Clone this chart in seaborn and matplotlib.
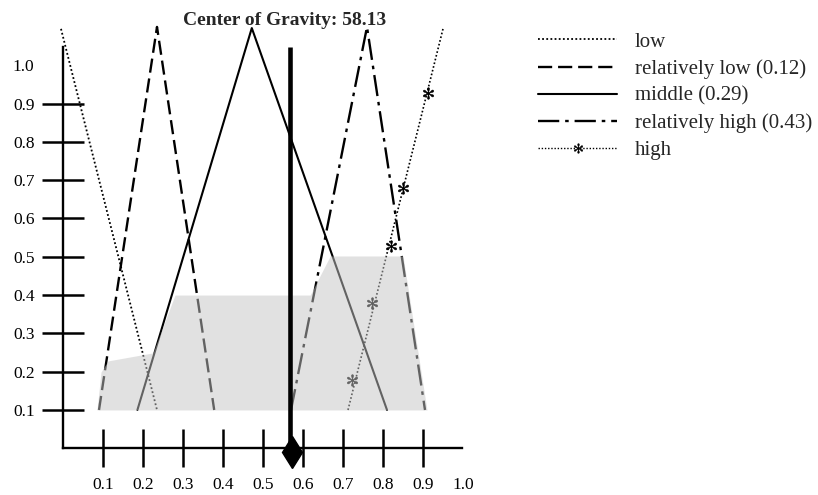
import matplotlib
matplotlib.use("Agg")
import matplotlib.pyplot as plt
from matplotlib.lines import Line2D
import seaborn as sns

# ---------------- data ----------------
low_x = [-0.005, 0.235]
low_y = [1.095, 0.10]
rel_low_x = [0.090, 0.235, 0.378]
rel_low_y = [0.10, 1.10, 0.10]
middle_x = [0.186, 0.472, 0.810]
middle_y = [0.10, 1.097, 0.10]
rel_high_x = [0.570, 0.760, 0.905]
rel_high_y = [0.10, 1.10, 0.10]
high_x = [0.7125, 0.950]
high_y = [0.10, 1.095]
star_x = [0.7225, 0.7725, 0.820, 0.850, 0.9125]
star_y = [0.178, 0.379, 0.528, 0.680, 0.927]
area_x = [0.085, 0.095, 0.1125, 0.225, 0.280, 0.618, 0.668, 0.850, 0.910]
area_y = [0.10, 0.199, 0.228, 0.249, 0.400, 0.400, 0.502, 0.502, 0.10]
area_base = 0.10
cog_x = 0.568
cog_top = 1.047
cog_title = "Center of Gravity: 58.13"
series_labels = ["low", "relatively low (0.12)", "middle (0.29)",
                 "relatively high (0.43)", "high"]
x_ticks = [0.1, 0.2, 0.3, 0.4, 0.5, 0.6, 0.7, 0.8, 0.9, 1.0]
y_ticks = [0.1, 0.2, 0.3, 0.4, 0.5, 0.6, 0.7, 0.8, 0.9, 1.0]
x_tick_labels = ["0.1", "0.2", "0.3", "0.4", "0.5", "0.6", "0.7", "0.8", "0.9", "1.0"]
y_tick_labels = ["0.1", "0.2", "0.3", "0.4", "0.5", "0.6", "0.7", "0.8", "0.9", "1.0"]

# ---------------- style ----------------
sns.set_style("white")
plt.rcParams["font.family"] = ["Liberation Serif", "DejaVu Serif"]
plt.rcParams["mathtext.fontset"] = "stix"

fig = plt.figure(figsize=(8.18, 4.95), dpi=100)
ax = fig.add_axes([0, 0, 1, 1])
ax.set_xlim(-0.1575, 1.8875)
ax.set_ylim(-0.122, 1.1703)

dotted = (0, (1.0, 1.3))
dashed = (0, (6.0, 2.5))
dashdot = (0, (9.0, 2.5, 1.5, 2.5))

sns.lineplot(x=low_x, y=low_y, ax=ax, color="black", lw=1.3, linestyle=dotted,
             sort=False, estimator=None, zorder=2)
sns.lineplot(x=rel_low_x, y=rel_low_y, ax=ax, color="black", lw=1.7, linestyle=dashed,
             sort=False, estimator=None, zorder=2)
sns.lineplot(x=middle_x, y=middle_y, ax=ax, color="black", lw=1.5, linestyle="-",
             sort=False, estimator=None, zorder=2)
sns.lineplot(x=rel_high_x, y=rel_high_y, ax=ax, color="black", lw=1.7, linestyle=dashdot,
             sort=False, estimator=None, zorder=2)
sns.lineplot(x=high_x, y=high_y, ax=ax, color="black", lw=1.2, linestyle=dotted,
             sort=False, estimator=None, zorder=2)
sns.scatterplot(x=star_x, y=star_y, ax=ax, color="black", marker="$*$", s=70,
                linewidth=0.4, edgecolor="black", zorder=2)

# aggregated output area (semi transparent, greys the lines below)
ax.fill_between(area_x, area_base, area_y, color="#c4c4c4", alpha=0.5, lw=0, zorder=3)

# centre of gravity
ax.plot([cog_x, cog_x], [0, cog_top], color="black", lw=3.3, zorder=4,
        solid_capstyle="butt")
ax.plot([cog_x + 0.004], [-0.01], marker="d", markersize=16.5, color="black", zorder=5)

ax.text(0.555, 1.118, cog_title, ha="center", va="center", fontsize=14,
        fontweight="bold")

# axes
for s in ["top", "right"]:
    ax.spines[s].set_visible(False)
ax.spines["left"].set_position(("data", 0))
ax.spines["bottom"].set_position(("data", 0))
ax.spines["left"].set_bounds(0, 1.047)
ax.spines["bottom"].set_bounds(0, 0.997)
for s in ["left", "bottom"]:
    ax.spines[s].set_linewidth(1.7)
    ax.spines[s].set_color("black")

ax.set_xticks(x_ticks)
ax.set_xticklabels(x_tick_labels)
ax.set_yticks(y_ticks)
ax.set_yticklabels(y_tick_labels)
ax.tick_params(axis="x", bottom=True, direction="inout", length=27, width=1.8,
               pad=7.5, labelsize=12.5, colors="black")
ax.tick_params(axis="y", left=True, direction="inout", length=30, width=1.8,
               pad=5.5, labelsize=12.5, colors="black")
ax.xaxis.get_major_ticks()[-1].tick1line.set_visible(False)
ax.yaxis.get_major_ticks()[-1].tick1line.set_visible(False)
ax.set_xlabel("")
ax.set_ylabel("")

# legend
handles = [
    Line2D([], [], color="black", lw=1.3, linestyle=dotted),
    Line2D([], [], color="black", lw=1.7, linestyle=dashed),
    Line2D([], [], color="black", lw=1.5, linestyle="-"),
    Line2D([], [], color="black", lw=1.7, linestyle=dashdot),
    Line2D([], [], color="black", lw=1.0, linestyle=dotted, marker="$*$",
           markersize=7, markeredgewidth=0.3),
]
leg = ax.legend(handles, series_labels, loc="upper left",
                bbox_to_anchor=(538 / 818, 1 - 32 / 495),
                bbox_transform=fig.transFigure, frameon=False, fontsize=15,
                handlelength=3.8, handletextpad=0.86, labelspacing=0.36,
                borderpad=0, borderaxespad=0, numpoints=1)

fig.savefig("out.png", dpi=100)
